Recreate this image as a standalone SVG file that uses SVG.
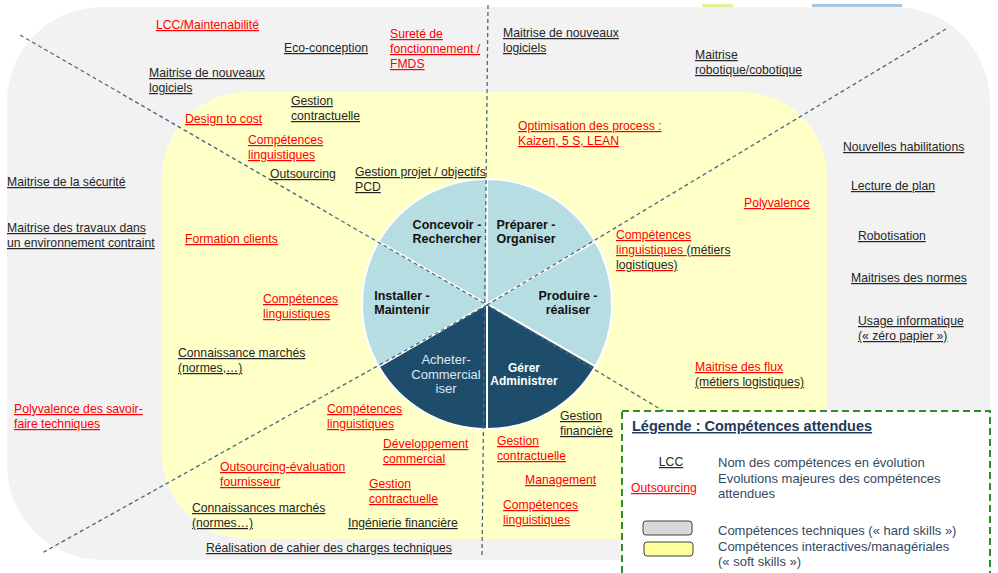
<svg xmlns="http://www.w3.org/2000/svg" width="998" height="573" viewBox="0 0 998 573">
<style>
text { font-family: "Liberation Sans", Arial, sans-serif; font-size: 12.2px; }
.k { fill: #262626; text-decoration: underline; }
.r { fill: #ff0000; text-decoration: underline; }
.n { fill: #262626; text-decoration: none; }
.pl { font-weight: bold; font-size: 12.5px; fill: #111111; text-anchor: middle; }
.lt { fill: #b6dde1; stroke: #ffffff; stroke-width: 2; }
.dk { fill: #1e4d6b; stroke: #ffffff; stroke-width: 2; }
.lg { fill: #34495e; font-size: 13px; }
.cn { stroke: #4a6782; stroke-width: 1.3; stroke-dasharray: 4 3; fill: none; }
</style>
<rect x="0" y="0" width="998" height="573" fill="#ffffff"/>
<rect x="702" y="4" width="31" height="3" fill="#e6ee9a"/>
<rect x="812" y="4" width="90" height="3" fill="#a9c6e0"/>
<g id="zone-hard-skills"><rect x="7" y="7" width="983" height="553" rx="95" ry="95" fill="#f2f2f2"/></g>
<g id="zone-soft-skills"><rect x="162" y="92" width="665" height="447" rx="85" ry="85" fill="#ffffc8"/></g>
<g id="pie">
<g id="slice-preparer"><path class="lt" d="M487,304 L487,179 A125,125 0 0 1 595.25,241.5 Z"/><text class="pl"><tspan x="526" y="229">Préparer -</tspan><tspan x="526" y="243">Organiser</tspan></text></g>
<g id="slice-produire"><path class="lt" d="M487,304 L595.25,241.5 A125,125 0 0 1 595.25,366.5 Z"/><text class="pl"><tspan x="568" y="300">Produire -</tspan><tspan x="568" y="314">réaliser</tspan></text></g>
<g id="slice-gerer"><path class="dk" d="M487,304 L595.25,366.5 A125,125 0 0 1 487,429 Z"/><text class="pl" style="fill:#ffffff;font-size:12px"><tspan x="524" y="372">Gérer</tspan><tspan x="524" y="385">Administrer</tspan></text></g>
<g id="slice-acheter"><path class="dk" d="M487,304 L487,429 A125,125 0 0 1 378.75,366.5 Z"/><text style="fill:#dfe8f0;font-size:13px;text-anchor:middle"><tspan x="446" y="364">Acheter-</tspan><tspan x="446" y="379">Commercial</tspan><tspan x="446" y="393">iser</tspan></text></g>
<g id="slice-installer"><path class="lt" d="M487,304 L378.75,366.5 A125,125 0 0 1 378.75,241.5 Z"/><text class="pl"><tspan x="402" y="300">Installer -</tspan><tspan x="402" y="314">Maintenir</tspan></text></g>
<g id="slice-concevoir"><path class="lt" d="M487,304 L378.75,241.5 A125,125 0 0 1 487,179 Z"/><text class="pl"><tspan x="447" y="229">Concevoir -</tspan><tspan x="447" y="243">Rechercher</tspan></text></g>
</g>
<g id="connectors">
<line class="cn" x1="488" y1="5" x2="482" y2="558"/>
<line class="cn" x1="20" y1="35" x2="487" y2="305"/>
<line class="cn" x1="487" y1="305" x2="700" y2="433"/>
<line class="cn" x1="946" y1="29" x2="487" y2="305"/>
<line class="cn" x1="487" y1="305" x2="42" y2="553"/>
</g>
<g id="n-lcc"><text class="r" x="156" y="29">LCC/Maintenabilité</text></g>
<g id="n-eco"><text class="k" x="284" y="52">Eco-conception</text></g>
<g id="n-surete"><text class="r"><tspan x="390" y="38">Sureté de</tspan><tspan x="390" y="53">fonctionnement /</tspan><tspan x="390" y="68">FMDS</tspan></text></g>
<g id="n-logiciels-1"><text class="k"><tspan x="149" y="77">Maitrise de nouveaux</tspan><tspan x="149" y="92">logiciels</tspan></text></g>
<g id="n-logiciels-2"><text class="k"><tspan x="503" y="37">Maitrise de nouveaux</tspan><tspan x="503" y="52">logiciels</tspan></text></g>
<g id="n-robotique"><text class="k"><tspan x="695" y="59">Maitrise</tspan><tspan x="695" y="74">robotique/cobotique</tspan></text></g>
<g id="n-gestion-contr-1"><text class="k"><tspan x="291" y="105">Gestion</tspan><tspan x="291" y="120">contractuelle</tspan></text></g>
<g id="n-design"><text class="r" x="185" y="123">Design to cost</text></g>
<g id="n-ling-1"><text class="r"><tspan x="248" y="144">Compétences</tspan><tspan x="248" y="159">linguistiques</tspan></text></g>
<g id="n-outsourcing"><text class="k" x="270" y="178">Outsourcing</text></g>
<g id="n-gestion-projet"><text class="k"><tspan x="355" y="176">Gestion projet / objectifs</tspan><tspan x="355" y="191">PCD</tspan></text></g>
<g id="n-optimisation"><text class="r"><tspan x="518" y="130">Optimisation  des process :</tspan><tspan x="518" y="145">Kaizen, 5 S, LEAN</tspan></text></g>
<g id="n-habilitations"><text class="k" x="843" y="151">Nouvelles habilitations</text></g>
<g id="n-securite"><text class="k" x="7" y="186">Maitrise de la sécurité</text></g>
<g id="n-lecture"><text class="k" x="851" y="190">Lecture de plan</text></g>
<g id="n-polyvalence"><text class="r" x="744" y="207">Polyvalence</text></g>
<g id="n-travaux"><text class="k"><tspan x="7" y="232">Maitrise des travaux dans</tspan><tspan x="7" y="247">un environnement contraint</tspan></text></g>
<g id="n-formation"><text class="r" x="185" y="243">Formation clients</text></g>
<g id="n-ling-logist"><text class="r"><tspan x="616" y="239">Compétences</tspan><tspan x="616" y="254">linguistiques </tspan><tspan class="n">(métiers</tspan><tspan class="n" x="616" y="269">logistiques)</tspan></text></g>
<g id="n-robotisation"><text class="k" x="858" y="240">Robotisation</text></g>
<g id="n-normes"><text class="k" x="851" y="282">Maitrises des normes</text></g>
<g id="n-ling-2"><text class="r"><tspan x="263" y="303">Compétences</tspan><tspan x="263" y="318">linguistiques</tspan></text></g>
<g id="n-usage"><text class="k"><tspan x="858" y="325">Usage informatique</tspan><tspan x="858" y="340">(« zéro papier »)</tspan></text></g>
<g id="n-connaissance-1"><text class="k"><tspan x="178" y="357">Connaissance marchés</tspan><tspan x="178" y="372">(normes,…)</tspan></text></g>
<g id="n-flux"><text class="r"><tspan x="695" y="371">Maitrise des flux</tspan><tspan class="n" x="695" y="386">(métiers logistiques)</tspan></text></g>
<g id="n-polyvalence-savoir"><text class="r"><tspan x="14" y="413">Polyvalence des savoir-</tspan><tspan x="14" y="428">faire techniques</tspan></text></g>
<g id="n-ling-3"><text class="r"><tspan x="327" y="413">Compétences</tspan><tspan x="327" y="428">linguistiques</tspan></text></g>
<g id="n-gestion-fin"><text class="k"><tspan x="560" y="420">Gestion</tspan><tspan x="560" y="435">financière</tspan></text></g>
<g id="n-dev-commercial"><text class="r"><tspan x="383" y="448">Développement</tspan><tspan x="383" y="463">commercial</tspan></text></g>
<g id="n-gestion-contr-2"><text class="r"><tspan x="497" y="445">Gestion</tspan><tspan x="497" y="460">contractuelle</tspan></text></g>
<g id="n-outsourcing-eval"><text class="r"><tspan x="220" y="471">Outsourcing-évaluation</tspan><tspan x="220" y="486">fournisseur</tspan></text></g>
<g id="n-management"><text class="r" x="525" y="484">Management</text></g>
<g id="n-gestion-contr-3"><text class="r"><tspan x="369" y="488">Gestion</tspan><tspan x="369" y="503">contractuelle</tspan></text></g>
<g id="n-ling-4"><text class="r"><tspan x="503" y="509">Compétences</tspan><tspan x="503" y="524">linguistiques</tspan></text></g>
<g id="n-connaissance-2"><text class="k"><tspan x="192" y="512">Connaissances marchés</tspan><tspan x="192" y="527">(normes…)</tspan></text></g>
<g id="n-ingenierie"><text class="k" x="348" y="527">Ingénierie financière</text></g>
<g id="n-cahier"><text class="k" x="206" y="552">Réalisation de cahier des charges techniques</text></g>
<g id="legend">
<rect x="622" y="411" width="368" height="175" fill="#ffffff" stroke="#2e8b2e" stroke-width="2" stroke-dasharray="7 4"/>
<text x="632" y="431" style="font-weight:bold;font-size:14.5px;fill:#1f3a5a;text-decoration:underline">Légende : Compétences attendues</text>
<text class="k" x="671" y="466" style="text-anchor:middle">LCC</text>
<text class="r" x="631" y="492">Outsourcing</text>
<text class="lg"><tspan x="718" y="467">Nom des compétences en évolution</tspan><tspan x="718" y="483">Evolutions majeures des compétences</tspan><tspan x="718" y="498">attendues</tspan></text>
<rect x="643" y="521" width="49" height="14" rx="3" fill="#d9d9d9" stroke="#404040" stroke-width="1"/>
<rect x="644" y="542" width="49" height="14" rx="3" fill="#ffff99" stroke="#404040" stroke-width="1"/>
<text class="lg"><tspan x="718" y="535">Compétences techniques (« hard skills »)</tspan><tspan x="718" y="551">Compétences interactives/managériales</tspan><tspan x="718" y="566">(« soft skills »)</tspan></text>
</g>
</svg>
